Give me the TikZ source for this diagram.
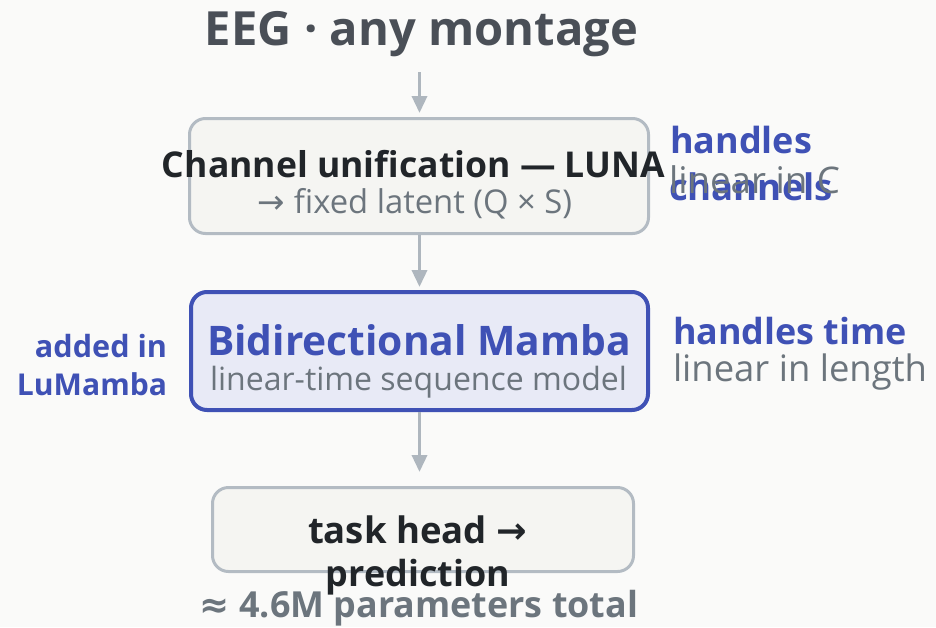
\documentclass[tikz,border=0pt]{standalone}
\usepackage{fontspec}
\setmainfont{Open Sans}
\newfontfamily\symfont{DejaVu Sans}
\usetikzlibrary{arrows.meta}
\definecolor{bg}{HTML}{FAFAF9}
\definecolor{boxfill}{HTML}{F5F5F2}
\definecolor{boxline}{HTML}{B3BBC3}
\definecolor{arrowgray}{HTML}{AEB6BE}
\definecolor{indigo}{HTML}{3F51B5}
\definecolor{lavender}{HTML}{E8EAF6}
\definecolor{ink}{HTML}{212529}
\definecolor{muted}{HTML}{6C757D}
\definecolor{titlegray}{HTML}{4A4F57}
% set a text line to a given width
\newcommand{\fitto}[2]{\resizebox{#1}{!}{\fontsize{30}{36}\selectfont #2}}
\begin{document}
\begin{tikzpicture}[x=1pt,y=-1pt,
  box/.style={draw=boxline, fill=boxfill, line width=3pt, rounded corners=16pt, inner sep=0pt},
  keybox/.style={box, draw=indigo, fill=lavender, line width=4pt},
  arr/.style={draw=arrowgray, line width=3.5pt, -{Triangle[width=15pt,length=17pt]}},
  txt/.style={inner sep=0pt, outer sep=0pt, anchor=base},
  txtl/.style={txt, anchor=base west},
  txtr/.style={txt, anchor=base east}]
\fill[bg] (0,0) rectangle (936,627);
\useasboundingbox (0,0) rectangle (936,627);

% title
\node[txt, text=titlegray] (title) at (421.5,45) {\fitto{433pt}{\bfseries EEG · any montage}};

% pipeline boxes
\node[box, minimum width=459pt, minimum height=115pt] (b1) at (419,176) {};
\node[keybox, minimum width=457pt, minimum height=118pt] (b2) at (419.5,351) {};
\node[box, minimum width=421pt, minimum height=84pt] (b3) at (423,529.5) {};

% connectors
\coordinate (src) at (419.5,72);
\draw[arr, shorten >=4pt] (src) -- (src |- b1.north);
\draw[arr, shorten >=3pt] (src |- b1.south) -- (src |- b2.north);
\draw[arr, shorten >=14pt] (src |- b2.south) -- (src |- b3.north);

% box 1 text
\node[txt, text=ink] (t1a) at (413.5,177) {\fitto{503pt}{\bfseries Channel unification — LUNA}};
\node[txt, text=muted] (t1b) at (415,213) {\fitto{314pt}{{\symfont →} fixed latent (Q × S)}};

% box 2 text
\node[txt, text=indigo] (t2a) at (419,355) {\fitto{424pt}{\bfseries Bidirectional Mamba}};
\node[txt, text=muted] (t2b) at (418.5,390) {\fitto{417pt}{linear-time sequence model}};

% parameter count, then box 3 text
\node[txt, text=muted] (params) at (419,617) {\fitto{438pt}{\bfseries {\symfont ≈} 4.6M parameters total}};
\node[txt, text=ink] (t3a) at (417.5,543) {\fitto{219pt}{\bfseries task head {\symfont →}}};
\node[txt, text=ink] (t3b) at (418,586) {\fitto{184pt}{\bfseries prediction}};

% side notes
\node[txtr, text=indigo] (l1) at (167,357) {\fitto{132pt}{\bfseries added in}};
\node[txtr, text=indigo] (l2) at (167,395) {\fitto{150pt}{\bfseries LuMamba}};

\node[txtl, text=indigo] (r1) at (670,153) {\fitto{142pt}{\bfseries handles}};
\node[txtl, text=indigo] (r2) at (669,200) {\fitto{164pt}{\bfseries channels}};
\node[txtl, text=muted] (r3) at (669,193) {\fitto{171pt}{linear in C}};

\node[txtl, text=indigo] (r4) at (673,344) {\fitto{234pt}{\bfseries handles time}};
\node[txtl, text=muted] (r5) at (673,381) {\fitto{254pt}{linear in length}};
\end{tikzpicture}
\end{document}
